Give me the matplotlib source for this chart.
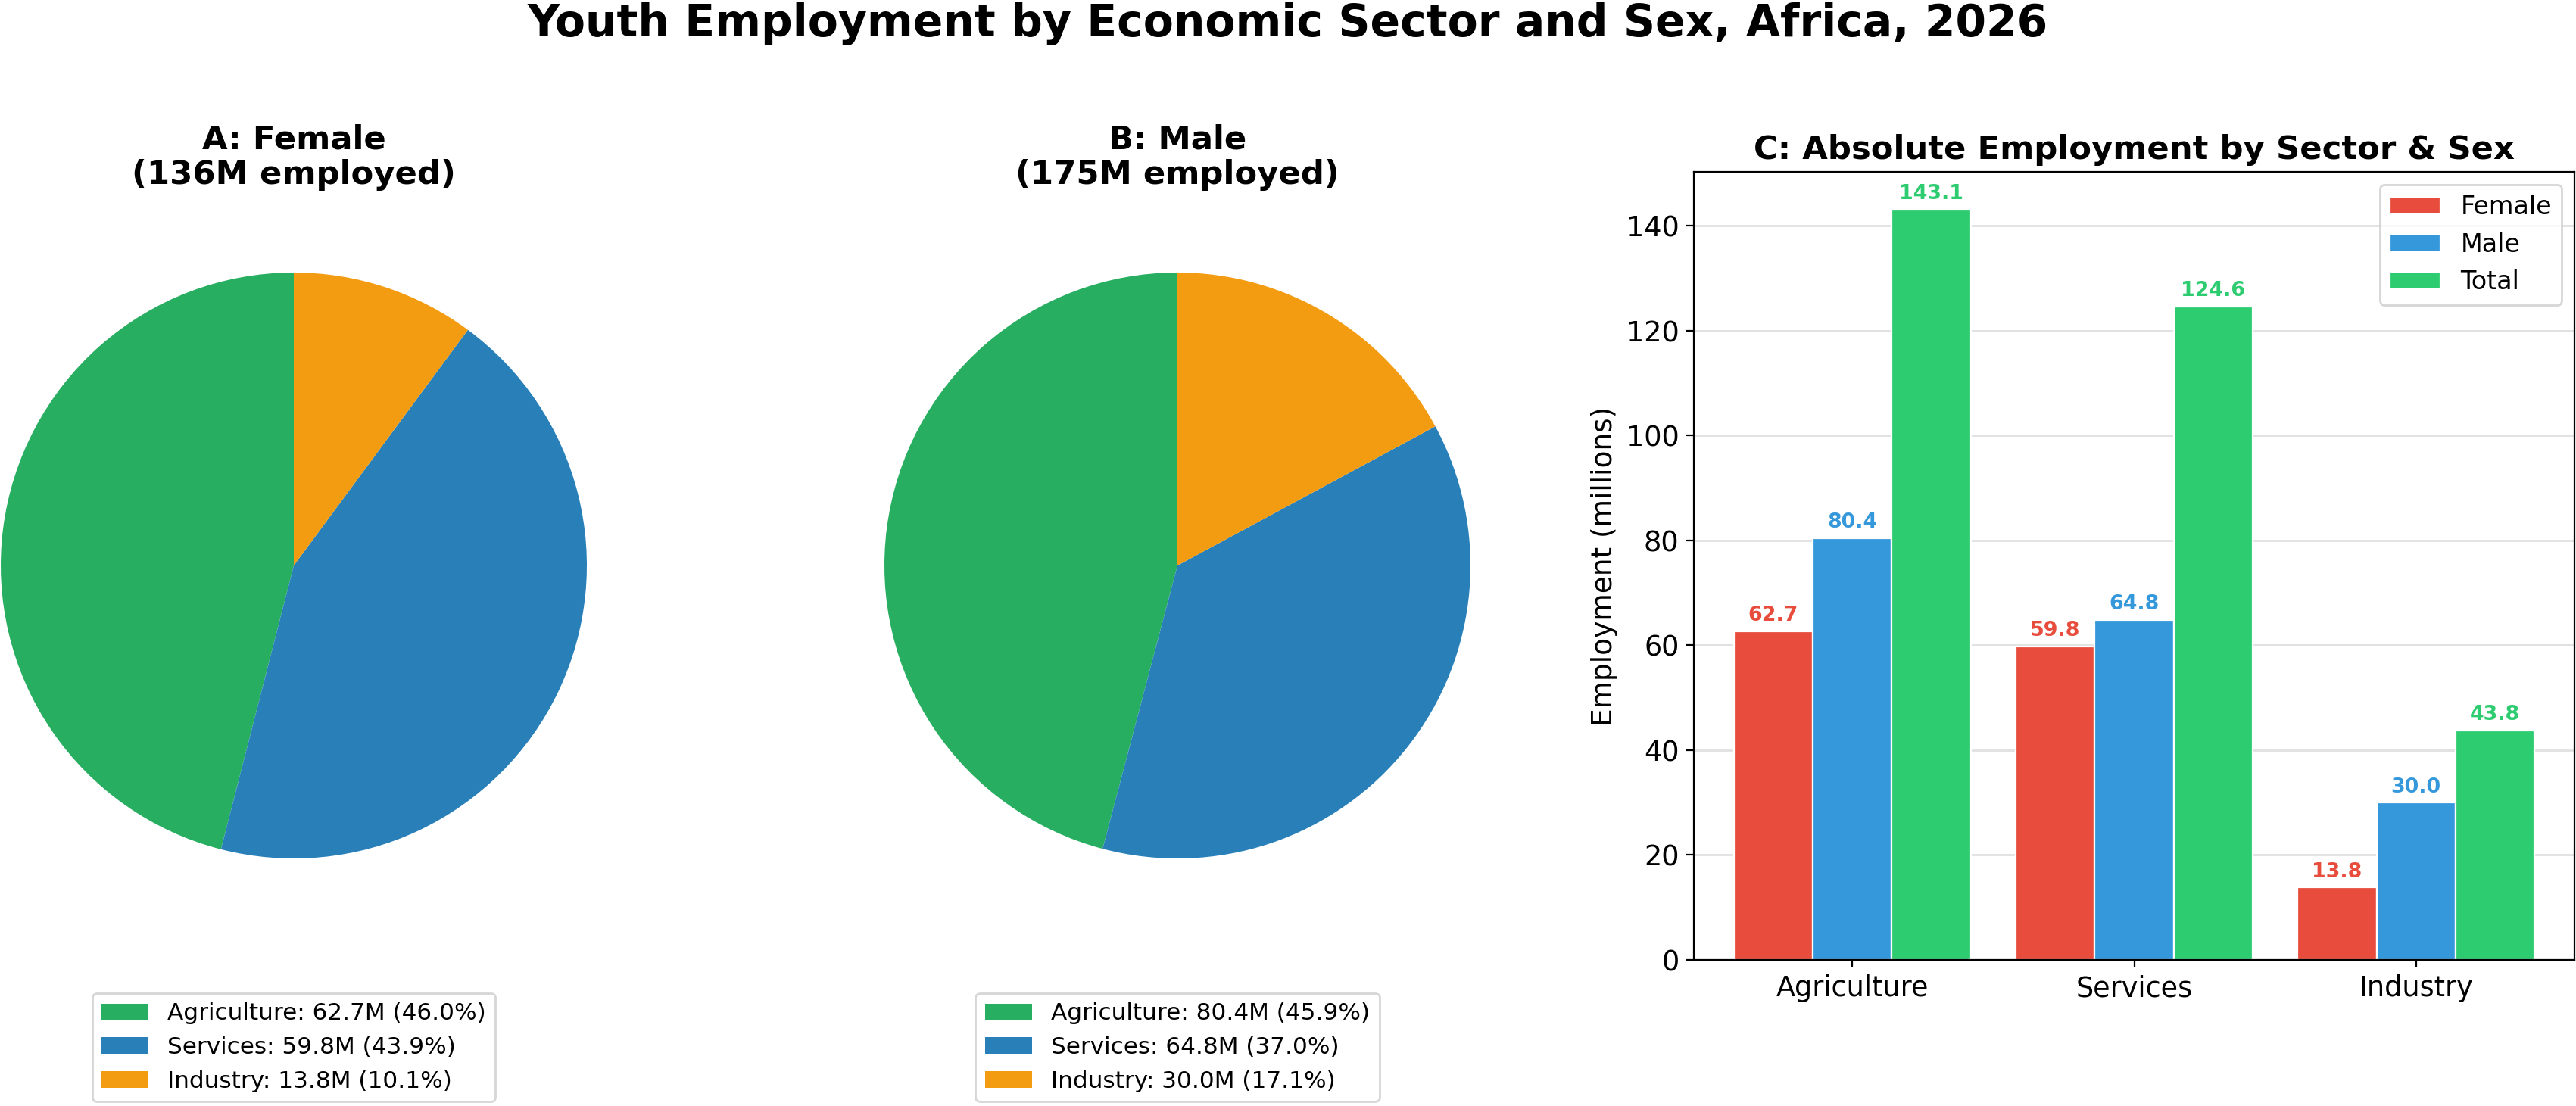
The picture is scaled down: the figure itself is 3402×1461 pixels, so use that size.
import matplotlib
matplotlib.use("Agg")
import matplotlib.pyplot as plt
import numpy as np

# ---- data ----
sectors = ["Agriculture", "Services", "Industry"]
female_vals = [62.7, 59.8, 13.8]
male_vals = [80.4, 64.8, 30.0]
total_vals = [143.1, 124.6, 43.8]
female_total_label = "136M"
male_total_label = "175M"

pie_colors = ["#27ae60", "#2980b9", "#f39c12"]
bar_colors = {"Female": "#e74c3c", "Male": "#3498db", "Total": "#2ecc71"}

W, H = 3402, 1461
DPI = 200
plt.rcParams['font.family'] = ['DejaVu Sans']
fig = plt.figure(figsize=(W / DPI, H / DPI), dpi=DPI)


def fx(px):
    return px / W


def fy(py):
    return 1 - py / H


def pie_panel(cx, cy, r, vals, title):
    ax = fig.add_axes([fx(cx - r), fy(cy + r), 2 * r / W, 2 * r / H])
    wedges, _ = ax.pie(vals, colors=pie_colors, startangle=90, counterclock=True)
    ax.set_xlim(-1, 1)
    ax.set_ylim(-1, 1)
    tot = sum(vals)
    labels = [f"{s}: {v:.1f}M ({v / tot * 100:.1f}%)" for s, v in zip(sectors, vals)]
    fig.legend(wedges, labels, loc="upper center", bbox_to_anchor=(fx(cx), fy(1312)),
               bbox_transform=fig.transFigure, fontsize=11.2, borderaxespad=0,
               frameon=True)
    fig.text(fx(cx), fy(208), title, ha="center", va="center", fontsize=15.6,
             fontweight="bold", linespacing=1.15)
    return ax


pie_panel(388, 747, 387, female_vals, f"A: Female\n({female_total_label} employed)")
pie_panel(1555, 747, 387, male_vals, f"B: Male\n({male_total_label} employed)")

# ---- bar chart ----
axb = fig.add_axes([fx(2237), fy(1268), (3400 - 2237) / W, (1268 - 227) / H])
x = np.arange(len(sectors))
w = 0.28
series = [("Female", female_vals, -w), ("Male", male_vals, 0.0), ("Total", total_vals, w)]
for name, vals, off in series:
    bars = axb.bar(x + off, vals, w, color=bar_colors[name], label=name,
                   edgecolor="white", linewidth=0.8)
    for b, v in zip(bars, vals):
        axb.text(b.get_x() + b.get_width() / 2, v + 1.1, f"{v:.1f}", ha="center",
                 va="bottom", fontsize=9.7, fontweight="bold", color=bar_colors[name])
axb.set_xticks(x)
axb.set_xticklabels(sectors)
axb.tick_params(labelsize=13.2)
axb.set_ylabel("Employment (millions)", fontsize=13.5)
axb.set_title("C: Absolute Employment by Sector & Sex", fontsize=15.6, fontweight="bold")
axb.yaxis.grid(True, color="#cccccc", alpha=0.6, linewidth=1.0)
axb.set_axisbelow(True)
axb.legend(loc="upper right", fontsize=12)

fig.text(0.5, fy(48), "Youth Employment by Economic Sector and Sex, Africa, 2026",
         ha="center", va="baseline", fontsize=21, fontweight="bold")

fig.savefig("out.png", dpi=DPI)
